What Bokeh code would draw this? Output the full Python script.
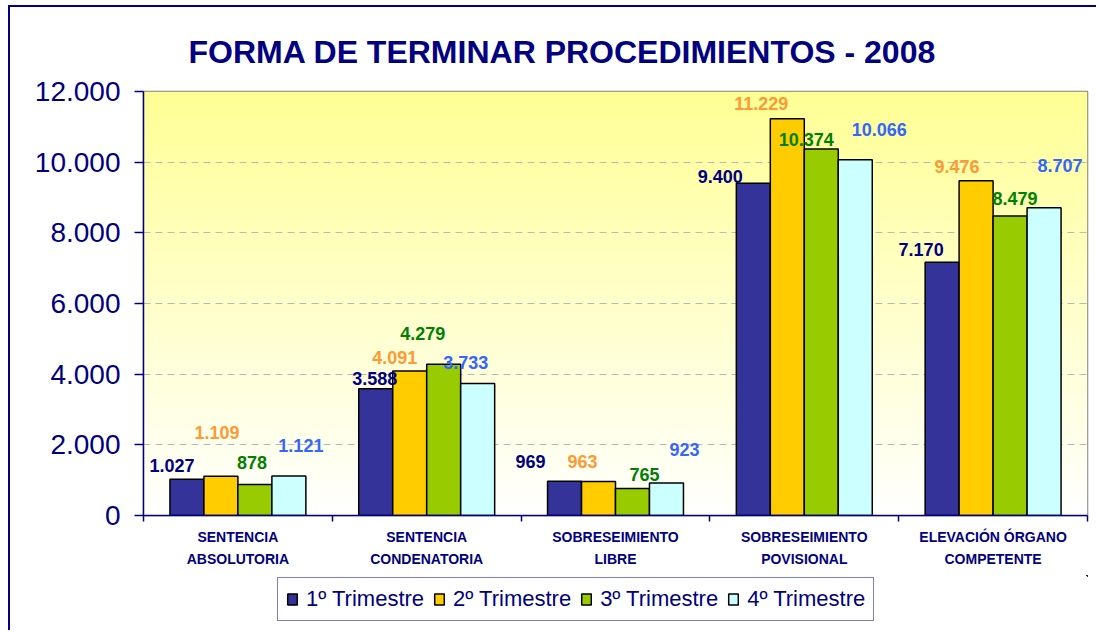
import numpy as np
from bokeh.plotting import figure
from bokeh.layouts import column
from bokeh.models import ColumnDataSource, FixedTicker, Legend, LegendItem, Range1d
from bokeh.embed import file_html
from bokeh.resources import INLINE
from bokeh.core.properties import value

# ---------------- data ----------------
categories = ["SENTENCIA\nABSOLUTORIA", "SENTENCIA\nCONDENATORIA", "SOBRESEIMIENTO\nLIBRE",
              "SOBRESEIMIENTO\nPOVISIONAL", "ELEVACIÓN ÓRGANO\nCOMPETENTE"]
series = ["1º Trimestre", "2º Trimestre", "3º Trimestre", "4º Trimestre"]
q1 = [1027, 3588, 969, 9400, 7170]
q2 = [1109, 4091, 963, 11229, 9476]
q3 = [878, 4279, 765, 10374, 8479]
q4 = [1121, 3733, 923, 10066, 8707]
y_ticks = [0, 2000, 4000, 6000, 8000, 10000, 12000]
y_tick_labels = ["0", "2.000", "4.000", "6.000", "8.000", "10.000", "12.000"]
title_text = "FORMA DE TERMINAR PROCEDIMIENTOS - 2008"

# ---------------- style ----------------
fill_colors = ["#333399", "#FFCC00", "#99CC00", "#CCFFFF"]
label_colors = ["#000080", "#FF9933", "#008000", "#3366FF"]
bar_offsets = [-0.27, -0.09, 0.09, 0.27]
bar_width = 0.18
# manual nudges of the data labels (px): [group][series]
label_dx = [[-15, -4, -3, 12], [-1, -15, -21, -12], [-34, -16, 12, 18], [-33, -26, -15, 24], [-21, -19, 5, 16]]
label_dy = [[14, 44, 22, 30], [10, 13, 31, 21], [20, 20, 14, 33], [7, 15, 9, 30], [13, 14, 17, 42]]
NAVY = "#000080"
FONT = "Liberation Sans"

all_series = [q1, q2, q3, q4]
n = len(categories)

p = figure(width=1086, height=568, output_backend="svg", toolbar_location=None,
           x_range=Range1d(0, n), y_range=Range1d(0, 12000),
           min_border_left=133, min_border_right=9, min_border_top=84, min_border_bottom=60)
p.background_fill_color = "white"
p.border_fill_color = "white"
p.outline_line_color = "#808080"
p.outline_line_width = 1.5

# title
p.title.text = title_text
p.title.text_font = FONT
p.title.text_font_size = "32px"
p.title.text_font_style = "bold"
p.title.text_color = NAVY
p.title.align = "left"
p.title.offset = 45
p.title.standoff = 44

# gradient background
N = 256
t = np.linspace(0, 1, N)
img = np.empty((N, 1), dtype=np.uint32)
view = img.view(dtype=np.uint8).reshape((N, 1, 4))
view[..., 0] = 255
view[..., 1] = 255
view[..., 2] = (255 - (255 - 150) * t).astype(np.uint8)[:, None]
view[..., 3] = 255
p.image_rgba(image=[img], x=0, y=0, dw=n, dh=12000, level="image")

# grid
p.xgrid.visible = False
p.ygrid.ticker = FixedTicker(ticks=y_ticks)
p.ygrid.grid_line_color = "#B8B8B8"
p.ygrid.grid_line_dash = "7 5"
p.ygrid.grid_line_width = 1

# y axis
p.yaxis.ticker = FixedTicker(ticks=y_ticks)
p.yaxis.major_label_overrides = {v: s for v, s in zip(y_ticks, y_tick_labels)}
p.yaxis.axis_line_color = NAVY
p.yaxis.axis_line_width = 1.5
p.yaxis.major_tick_line_color = NAVY
p.yaxis.major_tick_line_width = 1.5
p.yaxis.major_tick_out = 9
p.yaxis.major_tick_in = 0
p.yaxis.minor_tick_line_color = None
p.yaxis.major_label_text_font = FONT
p.yaxis.major_label_text_font_size = "28px"
p.yaxis.major_label_text_color = NAVY
p.yaxis.major_label_standoff = 14

# x axis
centers = [i + 0.5 for i in range(n)]
p.xaxis.ticker = FixedTicker(ticks=centers, minor_ticks=list(range(n + 1)))
p.xaxis.major_label_overrides = {c: lab for c, lab in zip(centers, categories)}
p.xaxis.axis_line_color = NAVY
p.xaxis.axis_line_width = 1.5
p.xaxis.major_tick_line_color = None
p.xaxis.major_tick_out = 0
p.xaxis.major_tick_in = 0
p.xaxis.minor_tick_line_color = NAVY
p.xaxis.minor_tick_line_width = 1.5
p.xaxis.minor_tick_out = 6
p.xaxis.minor_tick_in = 0
p.xaxis.major_label_text_font = FONT
p.xaxis.major_label_text_font_size = "14px"
p.xaxis.major_label_text_font_style = "bold"
p.xaxis.major_label_text_color = NAVY
p.xaxis.major_label_text_line_height = 1.4
p.xaxis.major_label_standoff = 7

# bars
bar_sources = []
for s, vals in enumerate(all_series):
    src = ColumnDataSource(dict(x=[i + 0.5 + bar_offsets[s] for i in range(n)], top=vals))
    bar_sources.append(src)
    p.vbar(x="x", top="top", width=bar_width, source=src,
           fill_color=fill_colors[s], line_color="black", line_width=1.5)

# data labels
lx, ly, lt, lc, ldx, ldy = [], [], [], [], [], []
for s, vals in enumerate(all_series):
    for i, v in enumerate(vals):
        lx.append(i + 0.5 + bar_offsets[s])
        ly.append(v)
        lt.append(f"{v:,}".replace(",", "."))
        lc.append(label_colors[s])
        ldx.append(label_dx[i][s])
        ldy.append(-label_dy[i][s])
lsrc = ColumnDataSource(dict(x=lx, y=ly, text=lt, color=lc, dx=ldx, dy=ldy))
p.text(x="x", y="y", text="text", x_offset="dx", y_offset="dy", text_color="color",
       text_font=value(FONT), text_font_style="bold", text_font_size="18px",
       text_align="center", text_baseline="middle", source=lsrc)

# legend strip: a second figure that only shows the legend (its bars lie outside its ranges)
leg = figure(width=1086, height=55, output_backend="svg", toolbar_location=None,
             x_range=Range1d(-20, -19), y_range=Range1d(-20, -19),
             x_axis_location=None, y_axis_location=None,
             min_border_left=133, min_border_right=9, min_border_top=0, min_border_bottom=0)
leg.grid.visible = False
leg.outline_line_color = None
leg.background_fill_color = "white"
leg.border_fill_color = "white"
leg_renderers = []
for s in range(4):
    leg_renderers.append(leg.vbar(x="x", top="top", width=bar_width, source=bar_sources[s],
                                  fill_color=fill_colors[s], line_color="black", line_width=1.5))
legend = Legend(items=[LegendItem(label=series[s], renderers=[leg_renderers[s]]) for s in range(4)],
                orientation="horizontal", location=(134, 9))
legend.border_line_color = NAVY
legend.border_line_width = 1
legend.background_fill_color = "white"
legend.background_fill_alpha = 1
legend.label_text_font = FONT
legend.label_text_font_size = "22px"
legend.label_text_color = NAVY
legend.glyph_width = 12
legend.glyph_height = 14
legend.label_standoff = 8
legend.spacing = 9
legend.padding = 8
legend.margin = 0
leg.add_layout(legend, "center")

layout = column(p, leg, margin=(5, 0, 0, 8), spacing=0,
                styles={"border-left": "2px solid #000080", "border-top": "2px solid #000080"})

open("out.html", "w").write(file_html(layout, INLINE))
